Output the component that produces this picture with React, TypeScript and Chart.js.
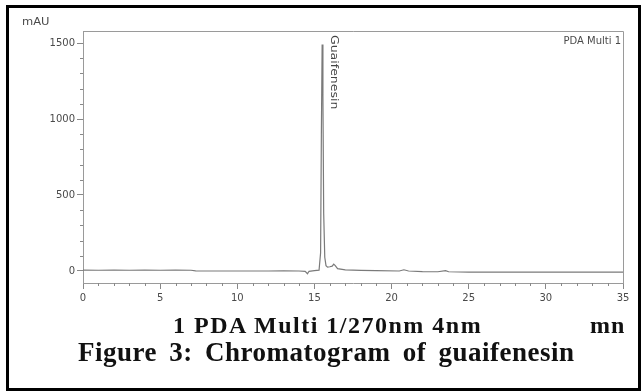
import React, { useEffect, useRef } from "react";
import { Chart, registerables } from "chart.js";

Chart.register(...registerables);

// Retention time (min) and detector response (mAU) of the trace
const retentionTimes = [
  0, 1, 2, 3, 4, 5, 6, 7, 7.3, 8, 10, 12, 13, 14, 14.4, 14.55, 14.65, 15.0, 15.3,
  15.4, 15.45, 15.5, 15.55, 15.6, 15.67, 15.75, 15.85, 16.0, 16.15, 16.25,
  16.35, 16.5, 17, 18, 19, 20.5, 20.8, 21.1, 22, 23, 23.5, 23.7, 25, 27, 30, 33, 35,
];
const absorbance = [
  6, 5, 6, 5, 6, 5, 6, 5, 1, 0, 0, 0, 1, 0, -2, -18, -2, 3, 6,
  120, 900, 1490, 1150, 380, 90, 35, 25, 28, 32, 45,
  35, 15, 8, 4, 2, 0, 8, 0, -4, -5, 2, -5, -8, -8, -8, -8, -8,
];

const xTickValues = [0, 5, 10, 15, 20, 25, 30, 35];
const yTickValues = [0, 500, 1000, 1500];
const xMinorStep = 1;
const yMinorStep = 100;

const peakName = "Guaifenesin";
const peakTime = 15.5;
const yUnit = "mAU";
const channelName = "PDA Multi 1";
const detectorLine = "1 PDA Multi 1/270nm 4nm";
const timeUnit = "mn";
const figureCaption = "Figure 3: Chromatogram of guaifenesin";

const AXIS_GRAY = "#9a9a9a";
const TEXT_GRAY = "#4a4a4a";
const SANS = "'DejaVu Sans', sans-serif";

const decorations = {
  id: "chromDecorations",
  afterDatasetsDraw(chart: any) {
    const { ctx, chartArea, scales } = chart;
    const xs = scales.x;
    const ys = scales.y;
    ctx.save();

    // frame around the plotting area (top and right edges)
    ctx.strokeStyle = AXIS_GRAY;
    ctx.lineWidth = 1;
    ctx.beginPath();
    ctx.moveTo(chartArea.left, chartArea.top + 0.5);
    ctx.lineTo(chartArea.right + 0.5, chartArea.top + 0.5);
    ctx.lineTo(chartArea.right + 0.5, chartArea.bottom);
    ctx.stroke();

    // minor ticks
    ctx.strokeStyle = "#888888";
    ctx.beginPath();
    for (let v = xs.min; v <= xs.max + 1e-9; v += xMinorStep) {
      if (Math.abs(v % 5) < 1e-9) continue;
      const px = Math.round(xs.getPixelForValue(v)) + 0.5;
      ctx.moveTo(px, chartArea.bottom);
      ctx.lineTo(px, chartArea.bottom + 3);
    }
    for (let v = 0; v <= 1500; v += yMinorStep) {
      if (v % 500 === 0) continue;
      const py = Math.round(ys.getPixelForValue(v)) + 0.5;
      ctx.moveTo(chartArea.left - 3, py);
      ctx.lineTo(chartArea.left, py);
    }
    ctx.stroke();

    // texts inside the frame
    ctx.fillStyle = TEXT_GRAY;
    ctx.font = `10px ${SANS}`;
    ctx.textBaseline = "middle";
    ctx.textAlign = "left";
    ctx.save();
    ctx.translate(22, 22);
    ctx.scale(1.15, 1);
    ctx.fillText(yUnit, 0, 0);
    ctx.restore();
    ctx.textAlign = "right";
    ctx.fillText(channelName, chartArea.right - 2, chartArea.top + 10);

    // peak name, rotated alongside the peak
    const px = xs.getPixelForValue(peakTime) + 11;
    ctx.translate(px, chartArea.top + 4);
    ctx.rotate(Math.PI / 2);
    ctx.scale(1.25, 1);
    ctx.textAlign = "left";
    ctx.fillStyle = "#444444";
    ctx.font = `10px ${SANS}`;
    ctx.fillText(peakName, 0, 0);
    ctx.restore();
  },
};

export default function App() {
  const canvasRef = useRef<HTMLCanvasElement | null>(null);

  useEffect(() => {
    const canvas = canvasRef.current;
    if (!canvas) return;
    const points = retentionTimes.map((t, i) => ({ x: t, y: absorbance[i] }));
    const chart = new Chart(canvas, {
      type: "line",
      data: {
        datasets: [
          {
            data: points,
            borderColor: "#7a7a7a",
            borderWidth: 1.2,
            pointRadius: 0,
            tension: 0,
            fill: false,
          },
        ],
      },
      options: {
        animation: false,
        responsive: false,
        events: [],
        layout: { padding: { top: 31, right: 21, left: 0, bottom: 0 } },
        plugins: {
          legend: { display: false },
          tooltip: { enabled: false },
        },
        scales: {
          x: {
            type: "linear",
            min: 0,
            max: 35,
            afterBuildTicks: (scale: any) => {
              scale.ticks = xTickValues.map((v) => ({ value: v }));
            },
            afterFit: (scale: any) => {
              scale.height = 109;
            },
            grid: {
              drawOnChartArea: false,
              tickLength: 6,
              tickColor: "#888888",
            },
            border: { color: AXIS_GRAY, width: 1 },
            ticks: {
              color: TEXT_GRAY,
              padding: 3,
              maxRotation: 0,
              callback: (v: any) => String(v),
              font: { family: SANS, size: 10 },
            },
          },
          y: {
            type: "linear",
            min: -79,
            max: 1579,
            afterBuildTicks: (scale: any) => {
              scale.ticks = yTickValues.map((v) => ({ value: v }));
            },
            afterFit: (scale: any) => {
              scale.width = 83;
            },
            grid: {
              drawOnChartArea: false,
              tickLength: 6,
              tickColor: "#888888",
            },
            border: { color: AXIS_GRAY, width: 1 },
            ticks: {
              color: TEXT_GRAY,
              padding: 2,
              callback: (v: any) => String(v),
              font: { family: SANS, size: 10 },
            },
          },
        },
      },
      plugins: [decorations],
    });
    return () => chart.destroy();
  }, []);

  const serif = "'Liberation Serif', 'Times New Roman', serif";

  return (
    <div
      style={{
        position: "absolute",
        left: 0,
        top: 0,
        width: 644,
        height: 392,
        background: "#ffffff",
        overflow: "hidden",
      }}
    >
      <canvas
        ref={canvasRef}
        width={644}
        height={392}
        style={{ position: "absolute", left: 0, top: 0, display: "block" }}
      />
      <div
        style={{
          position: "absolute",
          left: 6,
          top: 5,
          width: 635,
          height: 386,
          border: "3px solid #000",
          boxSizing: "border-box",
          pointerEvents: "none",
        }}
      />
      <div
        style={{
          position: "absolute",
          left: 173,
          top: 313,
          font: `bold 24px ${serif}`,
          lineHeight: "24px",
          letterSpacing: "1.5px",
          whiteSpace: "nowrap",
          color: "#111",
        }}
      >
        {detectorLine}
      </div>
      <div
        style={{
          position: "absolute",
          left: 590,
          top: 313,
          font: `bold 24px ${serif}`,
          lineHeight: "24px",
          letterSpacing: "1px",
          whiteSpace: "nowrap",
          color: "#111",
        }}
      >
        {timeUnit}
      </div>
      <div
        style={{
          position: "absolute",
          left: 78,
          top: 339,
          font: `bold 27px ${serif}`,
          lineHeight: "27px",
          letterSpacing: "0.5px",
          wordSpacing: "5px",
          whiteSpace: "nowrap",
          color: "#111",
        }}
      >
        {figureCaption}
      </div>
    </div>
  );
}
